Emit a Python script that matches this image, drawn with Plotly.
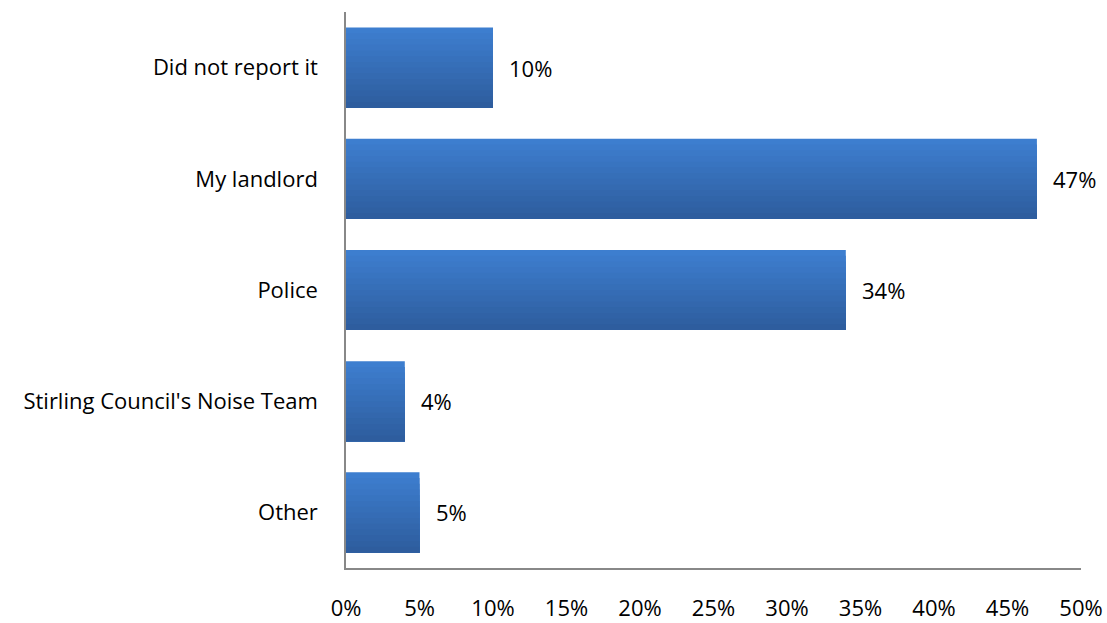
import plotly.graph_objects as go

categories = ["Did not report it", "My landlord", "Police",
              "Stirling Council's Noise Team", "Other"]
shares = [0.10, 0.47, 0.34, 0.04, 0.05]
tick_values = [0, 0.05, 0.10, 0.15, 0.20, 0.25, 0.30, 0.35, 0.40, 0.45, 0.50]
tick_labels = ["0%", "5%", "10%", "15%", "20%", "25%", "30%", "35%", "40%", "45%", "50%"]

FONT = "'Open Sans', sans-serif"
FONT_SIZE = 22

BAR_WIDTH = 0.72
TOP_RGB = (61, 126, 207)
BOTTOM_RGB = (46, 93, 158)
N_BANDS = 14

fig = go.Figure()

# Bars with a vertical light-to-dark shading: each layer starts a little
# lower and runs to the bar's bottom edge, drawn over the previous one.
for k in range(N_BANDS):
    t = k / (N_BANDS - 1)
    rgb = tuple(round(a + (b - a) * t) for a, b in zip(TOP_RGB, BOTTOM_RGB))
    step = BAR_WIDTH / N_BANDS
    fig.add_trace(
        go.Bar(
            x=shares,
            y=categories,
            orientation="h",
            width=BAR_WIDTH - k * step,
            offset=-BAR_WIDTH / 2 + k * step,
            marker=dict(color="rgb(%d,%d,%d)" % rgb, line=dict(width=0)),
            hoverinfo="x+y" if k == 0 else "skip",
            showlegend=False,
        )
    )

# value labels placed just past the end of each bar
for cat, v in zip(categories, shares):
    fig.add_annotation(
        x=v, y=cat, xref="x", yref="y",
        text=f"{round(v * 100)}%",
        showarrow=False, xanchor="left", yanchor="middle",
        xshift=14,
        font=dict(size=FONT_SIZE, color="#000000", family=FONT),
    )

fig.update_layout(
    width=1107,
    height=623,
    margin=dict(l=346, r=26, t=12, b=55, autoexpand=False),
    paper_bgcolor="white",
    plot_bgcolor="white",
    barmode="overlay",
    showlegend=False,
    font=dict(family=FONT, size=FONT_SIZE, color="#000000"),
)

fig.update_xaxes(
    range=[0, 0.5],
    tickvals=tick_values,
    ticktext=tick_labels,
    showgrid=False,
    zeroline=False,
    showline=True,
    linecolor="#888888",
    linewidth=1.5,
    ticks="",
    automargin=False,
    ticklabelstandoff=20,
    tickfont=dict(size=FONT_SIZE, family=FONT),
)

fig.update_yaxes(
    autorange="reversed",
    showgrid=False,
    zeroline=False,
    showline=True,
    linecolor="#888888",
    linewidth=1.5,
    ticks="",
    automargin=False,
    ticklabelstandoff=22,
    tickfont=dict(size=FONT_SIZE, family=FONT),
)

fig.write_html("out.html")
